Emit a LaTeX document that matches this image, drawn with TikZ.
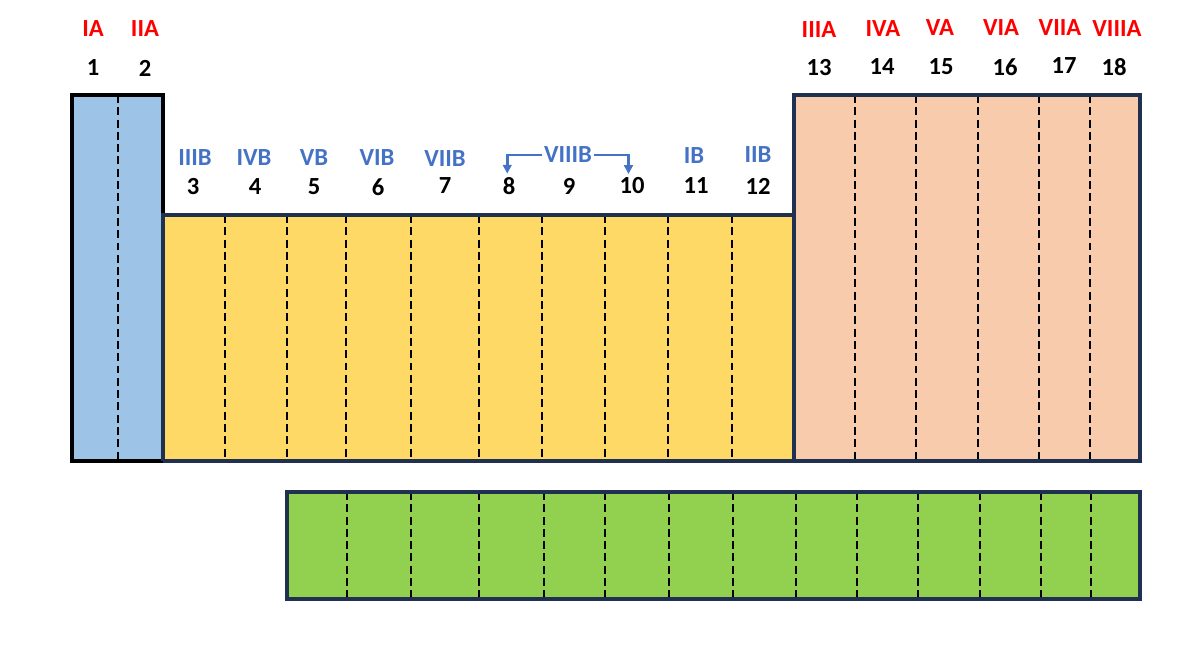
\documentclass[tikz,border=0pt]{standalone}
\usepackage{fontspec}
\setmainfont{Carlito}
\usetikzlibrary{arrows.meta}
\definecolor{sblock}{HTML}{9DC3E6}
\definecolor{dblock}{HTML}{FFD966}
\definecolor{pblock}{HTML}{F8CBAD}
\definecolor{fblock}{HTML}{92D050}
\definecolor{edge}{HTML}{1F3050}
\definecolor{bgroup}{HTML}{4472C4}
\tikzset{
	grpA/.style={text=red, font=\fontsize{14}{16}\selectfont\bfseries, inner sep=1pt},
	grpB/.style={text=bgroup, font=\fontsize{14}{16}\selectfont\bfseries, inner sep=1pt},
	num/.style={text=black, font=\fontsize{14}{16}\selectfont\bfseries, inner sep=1pt},
	sep/.style={line width=1.4pt, dash pattern=on 4.5pt off 2.5pt},
	frame/.style={line width=2.2pt, draw=edge}
}
\begin{document}
\begin{tikzpicture}[x=0.02cm, y=-0.02cm]
	\useasboundingbox (0,0) rectangle (1177,659);
	% Blocks
	\fill[sblock] (72,95) rectangle (163,461);
	\fill[dblock] (163,215) rectangle (794,461);
	\fill[pblock] (794,95) rectangle (1140,461);
	\fill[fblock] (287,492) rectangle (1140,599);
	% Group separators
	\draw[sep] (118,95) -- (118,461);
	\foreach \x in {225,287,346,411,479,542,605,668,732}
		\draw[sep] (\x,215) -- (\x,463);
	\foreach \x in {855,916,978,1039,1090}
		\draw[sep] (\x,95) -- (\x,461);
	\foreach \x in {347,411,479,544,605,669,733,796,857,918,980,1041,1091}
		\draw[sep] (\x,492) -- (\x,601);
	% Borders
	\draw[line width=2.2pt] (72,95) rectangle (163,461);
	\draw[frame] (163,461) -- (163,215) -- (794,215);
	\draw[frame] (163,461) -- (794,461);
	\draw[frame] (794,95) rectangle (1140,461);
	\draw[frame] (287,492) rectangle (1140,599);
	% Main group labels
	\node[grpA] (ia) at (93,29) {IA};
	\node[grpA] (iia) at (145,29) {IIA};
	\node[grpA] (iiia) at (819,30) {IIIA};
	\node[grpA] (iva) at (883,29) {IVA};
	\node[grpA] (va) at (940,28) {VA};
	\node[grpA] (via) at (1001,28) {VIA};
	\node[grpA] (viia) at (1060,28) {VIIA};
	\node[grpA] (viiia) at (1117,29) {VIIIA};
	\node[num] (n1) at (93,68) {1};
	\node[num] (n2) at (145,68) {2};
	\node[num] (n13) at (819,68) {13};
	\node[num] (n14) at (882,67) {14};
	\node[num] (n15) at (941,67) {15};
	\node[num] (n16) at (1005,67) {16};
	\node[num] (n17) at (1064,66) {17};
	\node[num] (n18) at (1114,67) {18};
	% Transition group labels
	\node[grpB] (iiib) at (195,158) {IIIB};
	\node[grpB] (ivb) at (254,158) {IVB};
	\node[grpB] (vb) at (314,158) {VB};
	\node[grpB] (vib) at (377,158) {VIB};
	\node[grpB] (viib) at (445,159) {VIIB};
	\node[grpB] (viiib) at (568,155) {VIIIB};
	\node[grpB] (ib) at (694,156) {IB};
	\node[grpB] (iib) at (758,155) {IIB};
	\node[num] (n3) at (193,187) {3};
	\node[num] (n4) at (255,187) {4};
	\node[num] (n5) at (314,187) {5};
	\node[num] (n6) at (378,187) {6};
	\node[num] (n7) at (445,186) {7};
	\node[num] (n8) at (509,186) {8};
	\node[num] (n9) at (569,186) {9};
	\node[num] (n10) at (632,186) {10};
	\node[num] (n11) at (696,186) {11};
	\node[num] (n12) at (758,186) {12};
	% VIIIB bracket
	\draw[bgroup, line width=1.6pt, -{Triangle[length=5pt,width=5pt]}] (viiib.west) -| ([xshift=-1pt,yshift=1pt]n8.north);
	\draw[bgroup, line width=1.6pt, -{Triangle[length=5pt,width=5pt]}] (viiib.east) -| ([xshift=-2pt,yshift=1pt]n10.north);
\end{tikzpicture}
\end{document}
